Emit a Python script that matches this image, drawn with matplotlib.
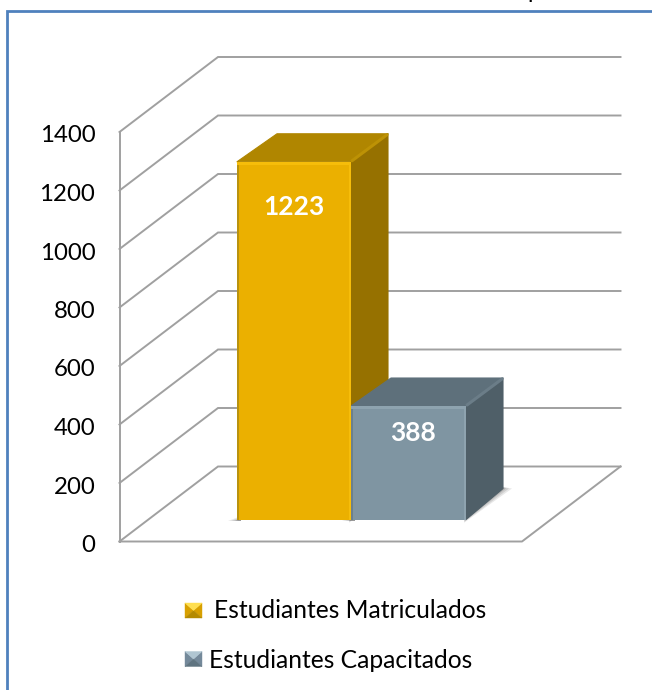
import matplotlib
matplotlib.use("Agg")
import matplotlib.pyplot as plt
from matplotlib.patches import Polygon
from matplotlib.transforms import ScaledTranslation

# Data
categories = ["Estudiantes Matriculados", "Estudiantes Capacitados"]
values = [1223, 388]
y_ticks = [0, 200, 400, 600, 800, 1000, 1200, 1400]

# Styles
W, H = 652, 690
FONT = "Lato"
GRID = "#a0a0a0"
FRONT = ["#ebb000", "#7f95a2"]
TOP = ["#b08600", "#5e707b"]
SIDE = ["#967100", "#4f5f68"]
LIGHT = ["#f6bd0a", "#8ea3af"]
DARK = ["#b9930f", "#6c808c"]
EDGE = ["#bd9205", "#6b7d88"]
ICON_T = ["#ffdf50", "#b0c6d2"]
ICON_B = ["#b48a00", "#5f7480"]
ICON_S = ["#d8a000", "#74899a"]

fig = plt.figure(figsize=(W / 100, H / 100), dpi=100, facecolor="white")

L, R, B, T = 119.5, 522, 541.5, 132
ax = fig.add_axes([L / W, (H - B) / H, (R - L) / W, (B - T) / H])
ax.set_xlim(0, R - L)
ax.set_ylim(0, 1400)
ax.patch.set_alpha(0)
for s in ["top", "right", "bottom"]:
    ax.spines[s].set_visible(False)
ax.spines["left"].set_color(GRID)
ax.spines["left"].set_linewidth(1.4)
ax.set_xticks([])
ax.set_yticks(y_ticks)
ax.set_yticklabels([str(v) for v in y_ticks], fontfamily=FONT, fontsize=17.3, color="black")
ax.tick_params(axis="y", length=0, pad=17.5)
shift = ScaledTranslation(0, -2 / 100, fig.dpi_scale_trans)
for lab in ax.get_yticklabels():
    lab.set_transform(lab.get_transform() + shift)

upv = 1400 / (B - T)          # data units per pixel
dpx, dpy = 98.5, 75           # wall depth in px
wall_dy = dpy * upv

# Walls and floor
for v in y_ticks:
    ax.plot([0, dpx, R - L + dpx], [v, v + wall_dy, v + wall_dy], color=GRID,
            lw=1.4, clip_on=False, zorder=1, solid_joinstyle="miter")
ax.plot([0, R - L, R - L + dpx], [0, 0, wall_dy], color=GRID, lw=1.4, clip_on=False, zorder=1)

# Bars
base = 22 * upv
lefts = [117.5, 231.5]
widths = [114, 115]
bar_dx, bar_dy, base_dy = 37, 28 * upv, 31 * upv
label_drop = [45, 27]
label_nudge = [-0.5, 4]
for i, v in enumerate(values):
    x0, w = lefts[i], widths[i]
    x1 = x0 + w
    top = base + v
    # floor shadow: a soft wedge left of the bar and a band under its side face
    for k, a in [(9, .14), (6, .18), (3, .24), (1, .30)]:
        ax.add_patch(Polygon([(x0 - k, base - 1.5 * upv), (x0 + 4, base - 1.5 * upv), (x0 + 4, base + k * .35 * upv)],
                             closed=True, fc="#606060", ec="none", alpha=a, zorder=2, clip_on=False))
        ax.add_patch(Polygon([(x1 - 2, base - 1.5 * upv - k * .2 * upv), (x1 + bar_dx + k, base + base_dy),
                              (x1 + bar_dx - 2, base + base_dy + 2 * upv), (x1, base + 2 * upv)],
                             closed=True, fc="#606060", ec="none", alpha=a, zorder=2, clip_on=False))
    ax.add_patch(Polygon([(x0, top), (x0 + bar_dx + 3, top + bar_dy), (x1 + bar_dx, top + bar_dy), (x1, top)],
                         closed=True, fc=TOP[i], ec=TOP[i], lw=.8, zorder=3, clip_on=False, joinstyle="round"))
    ax.add_patch(Polygon([(x1, base), (x1 + bar_dx, base + base_dy), (x1 + bar_dx, top + bar_dy), (x1, top)],
                         closed=True, fc=SIDE[i], ec=SIDE[i], lw=.8, zorder=3, clip_on=False, joinstyle="round"))
    # bevel between the top and side faces
    ax.plot([x1 + 1, x1 + bar_dx - 1], [top + 1 * upv, top + bar_dy - 1 * upv], color=EDGE[i],
            lw=2.2, zorder=3.5, clip_on=False, solid_capstyle="round")
    ax.bar(x0 + w / 2, v, width=w, bottom=base, color=FRONT[i], zorder=4, clip_on=False)
    # bevels on the front face
    ax.bar(x0 + 1, v, width=2, bottom=base, color=DARK[i], zorder=5, clip_on=False)
    ax.bar(x1 - 1, v, width=2, bottom=base, color=LIGHT[i], zorder=5, clip_on=False)
    ax.bar(x0 + w / 2, 3 * upv, width=w, bottom=top - 3 * upv, color=LIGHT[i], zorder=5, clip_on=False)
    ax.text(x0 + w / 2 + label_nudge[i], top - label_drop[i] * upv, str(v),
            color="white", fontfamily=FONT, fontweight="bold", fontsize=19,
            ha="center", va="center", zorder=6)

# Figure-level decoration in pixel coordinates
deco = fig.add_axes([0, 0, 1, 1], zorder=-1)
deco.set_xlim(0, W)
deco.set_ylim(H, 0)
deco.axis("off")
deco.plot([6.5, 6.5, W], [H, 10.5, 10.5], color="#4f81bd", lw=2, solid_joinstyle="miter")

# Cropped text fragment at the top edge
fig.text(534 / W, 1 + 8 / H, "p", fontfamily=FONT, fontsize=17, ha="center", va="center", color="black")

# Legend
leg_text_x = [214.5, 209]
leg_y = [611, 660]
icon_y = [610.5, 659]
for i, c in enumerate(categories):
    x0, x1 = 185, 202
    yc = icon_y[i]
    y0, y1 = yc - 7.5, yc + 7.5
    xm, ym = (x0 + x1) / 2, yc
    deco.add_patch(Polygon([(x0, y0), (x0, y1), (xm, ym)], fc=ICON_S[i], ec=ICON_S[i], lw=.3))
    deco.add_patch(Polygon([(x1, y0), (x1, y1), (xm, ym)], fc=ICON_S[i], ec=ICON_S[i], lw=.3))
    deco.add_patch(Polygon([(x0, y1), (x1, y1), (xm, ym)], fc=ICON_B[i], ec=ICON_B[i], lw=.3))
    deco.add_patch(Polygon([(x0, y0), (x1, y0), (xm, ym)], fc=ICON_T[i], ec=ICON_T[i], lw=.3))
    deco.text(leg_text_x[i], leg_y[i], c, fontfamily=FONT, fontsize=17.7, color="black", ha="left", va="center")

fig.savefig("out.png", dpi=100)
